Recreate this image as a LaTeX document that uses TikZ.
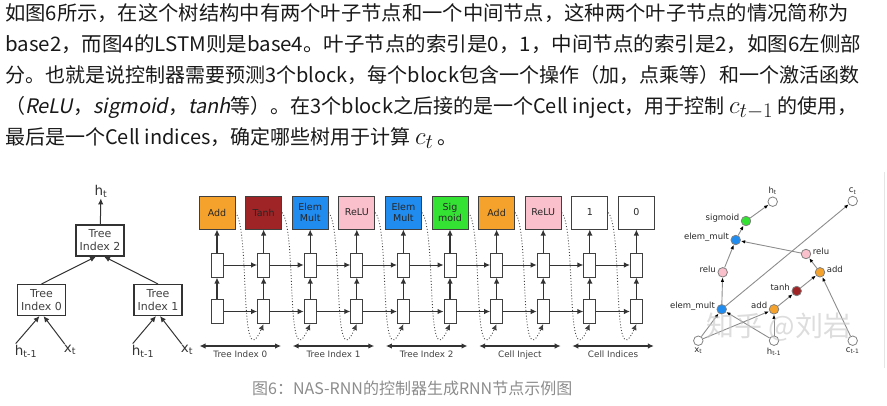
\documentclass[tikz,border=0pt]{standalone}
\usepackage{fontspec}
\setmainfont{Noto Sans CJK SC}
\setsansfont{DejaVu Sans}
\newfontfamily\slantfont[FakeSlant=0.2]{Noto Sans CJK SC}
\newcommand\inmath[1]{{\fontsize{28}{31}\selectfont$#1$}}
\usetikzlibrary{arrows.meta,positioning}
\definecolor{addc}{RGB}{244,162,43}
\definecolor{tanhc}{RGB}{158,36,38}
\definecolor{multc}{RGB}{33,140,240}
\definecolor{reluc}{RGB}{250,192,203}
\definecolor{sigc}{RGB}{52,226,52}
\tikzset{
  para/.style={anchor=base west, inner sep=0pt, font=\fontsize{20}{31}\selectfont, text=black!90},
  treebox/.style={draw=black!80, line width=1.1pt, minimum width=48pt, minimum height=31pt,
    align=center, inner sep=1pt, font=\sffamily\fontsize{11}{13}\selectfont, text=black!75},
  inlabel/.style={inner sep=1pt, font=\sffamily\fontsize{13.5}{15}\selectfont, text=black!80},
  opbox/.style={draw=black!75, line width=1pt, minimum width=36pt, minimum height=33pt,
    align=center, inner sep=1pt, font=\sffamily\fontsize{9.5}{11}\selectfont, text=black!85},
  cellbox/.style={draw=black!75, line width=1pt, fill=white, minimum width=12pt,
    minimum height=24pt, inner sep=0pt},
  dotline/.style={dotted, line width=0.9pt, draw=black!75},
  spanarrow/.style={<->, line width=1.2pt, draw=black!80},
  spanlabel/.style={font=\sffamily\fontsize{8.8}{10}\selectfont, text=black!75},
  gnode/.style={circle, draw=gray, line width=0.8pt, minimum size=9.5pt, inner sep=0pt},
  glabel/.style={font=\sffamily\fontsize{8.5}{10}\selectfont, text=black!85, inner sep=1.5pt},
  gedge/.style={draw=gray!90, line width=0.9pt, -{Latex[length=4.5pt,width=3.5pt,color=black]}},
}
\begin{document}
\begin{tikzpicture}[x=1pt,y=-1pt,>={Latex[length=6pt,width=5.5pt]}]
  \useasboundingbox (0,0) rectangle (887,405);
  % text above the figure
  \node[para] (l1) at (5,20) {\scalebox{1.015}[1]{如图6所示，在这个树结构中有两个叶子节点和一个中间节点，这种两个叶子节点的情况简称为}};
  \node[para] (l2) at (5,51) {\scalebox{1.025}[1]{base2，而图4的LSTM则是base4。叶子节点的索引是0，1，中间节点的索引是2，如图6左侧部}};
  \node[para] (l3) at (5,82) {分。也就是说控制器需要预测3个block，每个block包含一个操作（加，点乘等）和一个激活函数};
  \node[para] (l4) at (5,113) {（{\slantfont ReLU}，{\slantfont sigmoid}，{\slantfont tanh}等）。在3个block之后接的是一个Cell inject，用于控制 \inmath{c_{t-1}} 的使用，};
  \node[para] (l5) at (5,144) {最后是一个Cell indices，确定哪些树用于计算 \inmath{c_t} 。};

  % left: tree
  \node[treebox] (t2) at (100,240.5) {Tree\\Index 2};
  \node[treebox] (t0) at (41.5,300) {Tree\\Index 0};
  \node[treebox] (t1) at (158,300) {Tree\\Index 1};
  \node[inlabel] (ht) at (101,191) {h\textsubscript{t}};
  \node[inlabel] (h0) at (26,351) {h\textsubscript{t-1}};
  \node[inlabel] (x0) at (70,350) {x\textsubscript{t}};
  \node[inlabel] (h1) at (143,351) {h\textsubscript{t-1}};
  \node[inlabel] (x1) at (187,350) {x\textsubscript{t}};
  \draw[->,line width=1pt,black!80] (t2) -- (ht);
  \draw[->,line width=1pt,black!80] (t0.north) -- ([xshift=-4pt]t2.south);
  \draw[->,line width=1pt,black!80] (t1.north) -- ([xshift=4pt]t2.south);
  \draw[->,line width=1pt,black!80] ([xshift=2pt]h0.north west) -- ([xshift=-2pt]t0.south);
  \draw[->,line width=1pt,black!80] ([xshift=2pt]x0.north west) -- ([xshift=2pt]t0.south);
  \draw[->,line width=1pt,black!80] ([xshift=2pt]h1.north west) -- ([xshift=-2pt]t1.south);
  \draw[->,line width=1pt,black!80] ([xshift=2pt]x1.north west) -- ([xshift=2pt]t1.south);

  % middle: controller steps
  \foreach \lab/\col [count=\i from 0] in {Add/addc, Tanh/tanhc, {Elem\\Mult}/multc, ReLU/reluc,
      {Elem\\Mult}/multc, {Sig\\moid}/sigc, Add/addc, ReLU/reluc, 1/white, 0/white} {
    \node[opbox, fill=\col] (op\i) at ({217+46.6*\i},212.5) {\lab};
    \node[cellbox] (up\i) at ({217+46.6*\i},265) {};
    \node[cellbox] (lo\i) at ({217+46.6*\i},311.5) {};
    \draw[->,line width=1.1pt,black!80] (lo\i) -- (up\i);
    \draw[->,line width=1.1pt,black!80] (up\i) -- (op\i);
  }
  \foreach \i [count=\j] in {0,...,8} {
    \draw[->,line width=1pt,black!80] (up\i) -- (up\j);
    \draw[->,line width=1pt,black!80] (lo\i) -- (lo\j);
    \draw[dotline,->] (op\i.east) .. controls +(15,18) and +(-25,57) .. (lo\j.south);
  }
  \foreach \a/\b/\txt [count=\k] in {0/1/Tree Index 0, 2/3/Tree Index 1, 4/5/Tree Index 2,
      6/7/Cell Inject, 8/9/Cell Indices} {
    \coordinate (sa\k) at ([xshift=1pt]op\a.west |- 0,346);
    \coordinate (sb\k) at ([xshift=-1pt]op\b.east |- 0,346);
    \draw[spanarrow] (sa\k) -- (sb\k) node[midway,below=1pt,spanlabel] (sl\k) {\txt};
  }

  % right: resulting cell
  \node[gnode, fill=white, label={[glabel]above:h\textsubscript{t}}] (ght) at (772.7,201.7) {};
  \node[gnode, fill=white, label={[glabel]above:c\textsubscript{t}}] (gct) at (852.7,201) {};
  \node[gnode, fill=sigc, label={[glabel,yshift=3pt]left:sigmoid}] (gsig) at (746,221) {};
  \node[gnode, fill=multc, label={[glabel,yshift=3pt]left:elem\_mult}] (gm2) at (735.7,240) {};
  \node[gnode, fill=reluc, label={[glabel,yshift=3pt]right:relu}] (gr2) at (806,254) {};
  \node[gnode, fill=reluc, label={[glabel,yshift=3pt]left:relu}] (gr1) at (722.7,272.3) {};
  \node[gnode, fill=addc, label={[glabel,yshift=3pt]right:add}] (ga2) at (820,272.3) {};
  \node[gnode, fill=tanhc, label={[glabel,yshift=4pt]left:tanh}] (gtanh) at (796.7,291) {};
  \node[gnode, fill=multc, label={[glabel,yshift=3pt]left:elem\_mult}] (gm1) at (721.7,309.3) {};
  \node[gnode, fill=addc, label={[glabel,yshift=4pt]left:add}] (ga1) at (774,309.3) {};
  \node[gnode, fill=white, label={[glabel]below:x\textsubscript{t}}] (gxt) at (698.3,340.7) {};
  \node[gnode, fill=white, label={[glabel]below:h\textsubscript{t-1}}] (ghp) at (774,340.7) {};
  \node[gnode, fill=white, label={[glabel]below:c\textsubscript{t-1}}] (gcp) at (852.7,340.7) {};
  \draw[gedge] (gxt) -- (gm1);
  \draw[gedge] (ghp) -- (gm1);
  \draw[gedge] (gxt) -- (ga1);
  \draw[gedge] (ghp) -- (ga1);
  \draw[gedge] (ga1) -- (gtanh);
  \draw[gedge] (gtanh) -- (ga2);
  \draw[gedge] (gcp) -- (ga2);
  \draw[gedge] (ga2) -- (gr2);
  \draw[gedge] (gr2) -- (gm2);
  \draw[gedge] (gm1) -- (gr1);
  \draw[gedge] (gr1) -- (gm2);
  \draw[gedge] (gm2) -- (gsig);
  \draw[gedge] (gsig) -- (ght);
  \draw[gedge] (gm1) -- (gct);
  \node[font=\fontsize{28}{30}\selectfont, text=gray!45, opacity=.6] (wm) at (779,327) {知乎 @刘岩};
  \draw[gray!20] (884,172) -- (884,368);

  % caption
  \node[anchor=base west, inner sep=0pt, font=\fontsize{16}{18}\selectfont, text=black!45] (cap)
    at (252,394) {图6：NAS-RNN的控制器生成RNN节点示例图};
\end{tikzpicture}
\end{document}
